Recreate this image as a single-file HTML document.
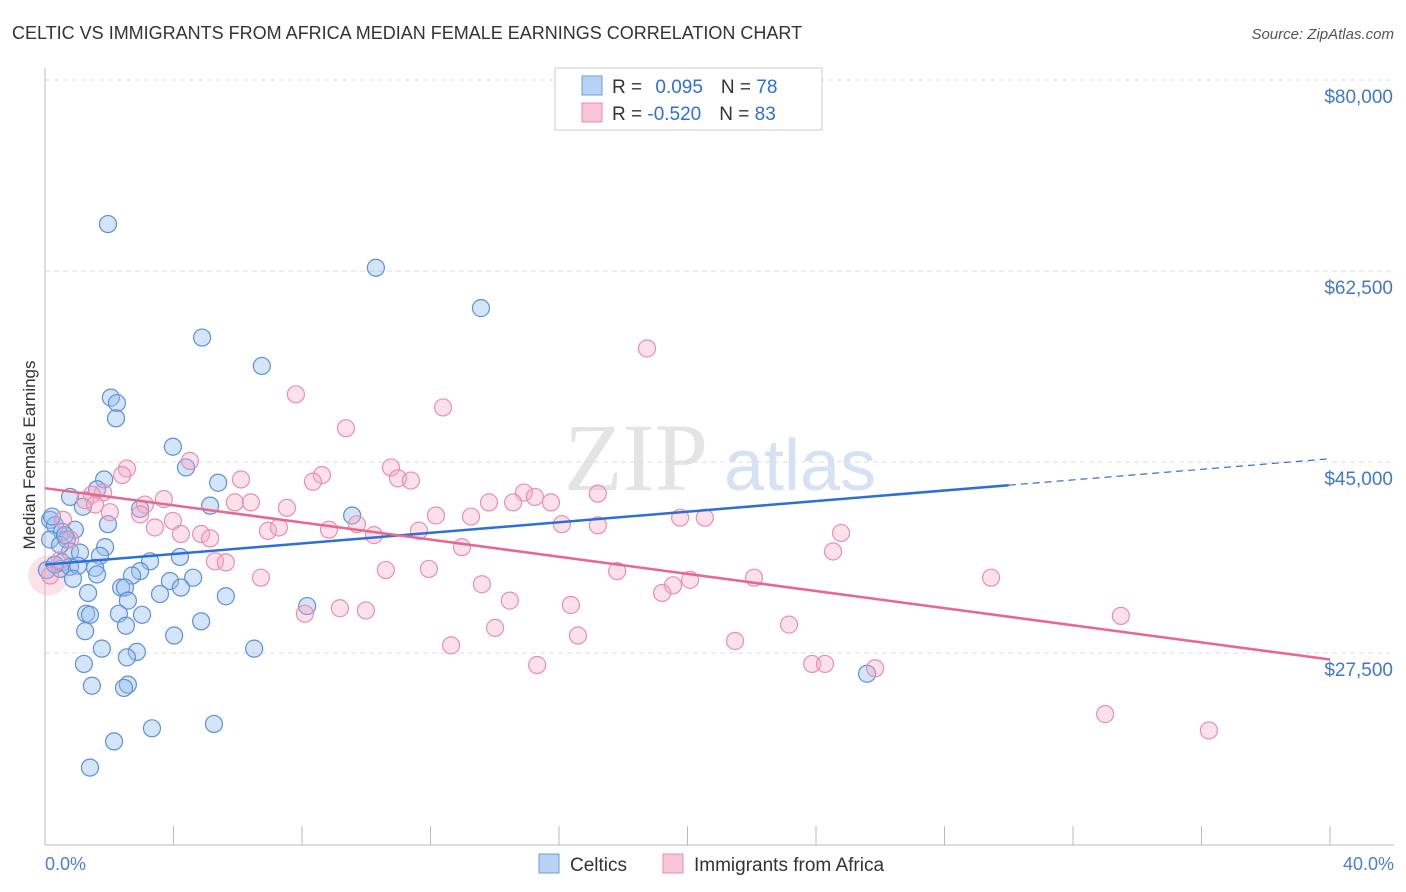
<!DOCTYPE html>
<html><head><meta charset="utf-8"><style>
body{margin:0;background:#fff;font-family:"Liberation Sans",sans-serif;}
svg{display:block}
</style></head><body>
<svg id="chart" width="1406" height="892">
<text x="12" y="39" font-size="18" fill="#333">CELTIC VS IMMIGRANTS FROM AFRICA MEDIAN FEMALE EARNINGS CORRELATION CHART</text>
<text x="1394" y="39" font-size="15" fill="#555" font-style="italic" text-anchor="end">Source: ZipAtlas.com</text>
<text x="636" y="490" font-size="96" fill="#e4e4e4" font-family="Liberation Serif,serif" text-anchor="middle">ZIP</text>
<text x="800" y="490" font-size="72" fill="#d4e2f4" text-anchor="middle">atlas</text>
<g id="grid"></g>
<g id="axes"></g>
<g id="points"></g>
<g id="lines"></g>
<text transform="translate(35,455) rotate(-90)" font-size="17" fill="#333" text-anchor="middle">Median Female Earnings</text>
<text x="45" y="870" font-size="18" fill="#4a7fd0">0.0%</text>
<text x="1394" y="870" font-size="18" fill="#4a7fd0" text-anchor="end">40.0%</text>
<g>
<rect x="555" y="68" width="267" height="62" fill="#fff" stroke="#ccc"/>
<rect x="582" y="76" width="20" height="19" fill="#b8d2f4" stroke="#6c9ae0"/>
<rect x="582" y="103" width="20" height="19" fill="#f9c6d6" stroke="#e98fb0"/>
<text x="612" y="93" font-size="19" fill="#333">R = <tspan fill="#2f6fd6" dx="8">0.095</tspan><tspan dx="18" fill="#333">N = </tspan><tspan fill="#2f6fd6">78</tspan></text>
<text x="612" y="120" font-size="19" fill="#333">R = <tspan fill="#2f6fd6" dx="0">-0.520</tspan><tspan dx="18" fill="#333">N = </tspan><tspan fill="#2f6fd6">83</tspan></text>
</g>
<g>
<rect x="539" y="854" width="20" height="19" fill="#b8d2f4" stroke="#6c9ae0"/>
<text x="570" y="871" font-size="19" fill="#333">Celtics</text>
<rect x="663" y="854" width="20" height="19" fill="#f9c6d6" stroke="#e98fb0"/>
<text x="694" y="871" font-size="19" fill="#333">Immigrants from Africa</text>
</g>
</svg>
<script>
const yTicks=[80000,62500,45000,27500];
const yTickLabels=["$80,000","$62,500","$45,000","$27,500"];
const xTicks=[0,4,8,12,16,20,24,28,32,36,40];
const blueX=[1.96,10.3,13.57,4.89,6.75,2.05,2.24,2.21,3.98,4.39,1.84,5.39,1.62,0.78,1.18,5.14,2.96,9.56,1.96,0.16,0.31,0.53,0.93,0.16,0.68,1.87,0.78,1.09,1.71,3.27,4.2,0.53,0.78,1.56,1.03,0.47,2.96,2.71,1.62,3.89,4.61,0.87,1.34,3.58,4.23,2.37,2.49,2.58,5.63,8.16,1.28,2.3,3.02,1.4,4.86,2.52,1.25,4.02,1.77,2.86,2.55,6.51,1.21,25.59,2.58,1.46,2.46,5.26,3.33,2.15,1.4,0.47,0.62,0.06,0.31,0.22];
const blueY=[66.8,62.8,59.1,56.4,53.8,50.9,50.4,49.0,46.4,44.5,43.4,43.1,42.5,41.8,40.9,41.0,40.7,40.1,39.3,39.7,39.2,38.6,38.8,37.9,37.9,37.2,36.8,36.7,36.4,35.9,36.3,35.8,35.4,35.3,35.5,35.2,35.0,34.6,34.7,34.1,34.4,34.3,33.0,32.9,33.5,33.5,33.5,32.3,32.7,31.8,31.1,31.1,31.0,31.0,30.4,30.0,29.5,29.1,27.9,27.6,27.1,27.9,26.5,25.6,24.6,24.5,24.3,21.0,20.6,19.4,17.0,37.4,38.3,35.1,35.6,40.0];
const pinkX=[18.74,7.81,12.39,9.37,4.51,2.55,10.77,6.1,8.62,8.34,10.99,11.39,2.4,1.81,1.46,1.25,3.7,3.11,5.91,6.41,14.91,15.25,13.82,14.57,15.75,17.21,2.02,2.96,7.53,3.98,12.17,13.26,3.42,9.71,19.77,20.54,0.56,4.86,5.14,6.94,7.28,8.84,10.24,11.64,16.09,17.21,24.78,0.78,12.98,4.23,24.53,5.29,5.63,10.61,11.95,17.81,20.08,22.07,29.45,6.72,13.6,19.55,19.21,14.47,16.37,8.09,9.18,9.99,14.01,16.59,23.16,21.48,12.64,33.49,15.32,23.88,24.28,25.84,33.0,36.23,0.16,0.47,1.56];
const pinkY=[55.4,51.2,50.0,48.1,45.1,44.4,44.5,43.4,43.8,43.2,43.5,43.3,43.8,42.2,42.0,41.5,41.6,41.1,41.3,41.3,42.2,41.8,41.3,41.3,41.3,42.1,40.4,40.2,40.8,39.6,40.1,40.0,39.0,39.3,39.9,39.9,39.7,38.4,38.0,38.7,39.0,38.8,38.3,38.7,39.3,39.2,38.5,37.9,37.2,38.4,36.8,35.9,35.8,35.1,35.2,35.0,34.2,34.4,34.4,34.4,33.8,33.7,33.0,32.3,31.9,31.1,31.6,31.4,29.8,29.1,30.1,28.6,28.2,30.9,26.4,26.5,26.5,26.1,21.9,20.4,34.6,36.0,41.1];
const blueTrend=[35.6,45.3];
const pinkTrend=[42.6,26.9];
const NS="http://www.w3.org/2000/svg";
const X=p=>45+p/40*1285;
const Y=k=>80+(80-k)/17.5*191;
function mk(t,a,parent){const e=document.createElementNS(NS,t);for(const k in a)e.setAttribute(k,a[k]);document.getElementById(parent).appendChild(e);return e;}
yTicks.forEach((v,i)=>{
 const g=mk('line',{x1:45,x2:1394,y1:Y(v/1000),y2:Y(v/1000),stroke:'#ddd','stroke-dasharray':'5,4'},'grid');
 
 
 const t=mk('text',{x:1393,y:Y(v/1000)+23,'font-size':19,fill:'#3f78d0','text-anchor':'end'},'axes');
 t.textContent=yTickLabels[i];
 
 
});
mk('line',{x1:45,x2:45,y1:68,y2:845,stroke:'#bbb'},'axes');
mk('line',{x1:45,x2:1394,y1:845,y2:845,stroke:'#bbb'},'axes');
xTicks.forEach(p=>{
 const t=mk('line',{x1:X(p),x2:X(p),y1:826,y2:845,stroke:'#bbb'},'axes');
 
 
});
mk('circle',{cx:X(0.1),cy:Y(34.6),r:20,fill:'rgba(245,170,195,0.35)'},'points');
blueX.forEach((x,i)=>{
 const c=mk('circle',{cx:X(x),cy:Y(blueY[i]),r:8.5,fill:'rgba(150,190,240,0.4)',stroke:'#5c90da','stroke-width':1.2},'points');
 
 
});
pinkX.forEach((x,i)=>{
 const c=mk('circle',{cx:X(x),cy:Y(pinkY[i]),r:8.5,fill:'rgba(245,170,195,0.35)',stroke:'#e88fae','stroke-width':1.2},'points');
 
 
});
const bAt=p=>blueTrend[0]+(blueTrend[1]-blueTrend[0])*p/40;
const l1=mk('line',{x1:X(0),y1:Y(bAt(0)),x2:X(30),y2:Y(bAt(30)),stroke:'#2d6fd6','stroke-width':2.5},'lines');


const l2=mk('line',{x1:X(30),y1:Y(bAt(30)),x2:X(40),y2:Y(bAt(40)),stroke:'#2d6fd6','stroke-width':1.2,'stroke-dasharray':'7,5'},'lines');


const l3=mk('line',{x1:X(0),y1:Y(pinkTrend[0]),x2:X(40),y2:Y(pinkTrend[1]),stroke:'#e5688f','stroke-width':2.5},'lines');


</script>
</body></html>
